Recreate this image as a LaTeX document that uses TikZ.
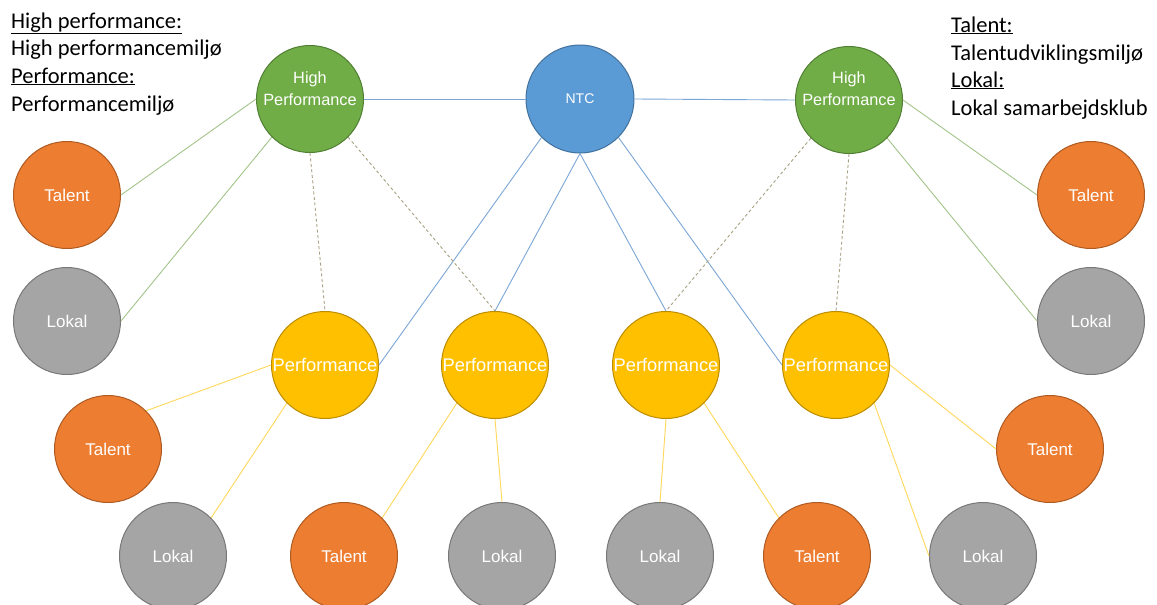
\documentclass[tikz,border=0pt]{standalone}
\usepackage{fontspec}
\setmainfont{Liberation Sans}
\newfontfamily\legendfont{Carlito}
\definecolor{cgreen}{HTML}{70AD47}
\definecolor{cgreenB}{HTML}{507E32}
\definecolor{cblue}{HTML}{5B9BD5}
\definecolor{cblueB}{HTML}{41719C}
\definecolor{corange}{HTML}{ED7D31}
\definecolor{corangeB}{HTML}{AE5A21}
\definecolor{cgray}{HTML}{A5A5A5}
\definecolor{cgrayB}{HTML}{787878}
\definecolor{cyellow}{HTML}{FFC000}
\definecolor{cyellowB}{HTML}{BC8C00}
\definecolor{lgreen}{HTML}{A3C48A}
\definecolor{lblue}{HTML}{7BA7D7}
\definecolor{lyellow}{HTML}{FFD85A}
\definecolor{ldash}{HTML}{A8A282}
\tikzset{
  circ/.style={circle, inner sep=0pt, minimum size=107pt, line width=1pt, text=white},
  hpc/.style={circ, fill=cgreen, draw=cgreenB},
  ntcc/.style={circ, fill=cblue, draw=cblueB, minimum size=108pt, font=\fontsize{14}{16}\selectfont},
  perfc/.style={circ, fill=cyellow, draw=cyellowB, font=\fontsize{18.3}{20}\selectfont},
  talc/.style={circ, fill=corange, draw=corangeB, font=\fontsize{17}{19}\selectfont},
  lokc/.style={circ, fill=cgray, draw=cgrayB, font=\fontsize{17}{19}\selectfont},
  hptext/.style={text=white, align=center, inner sep=0pt, font=\fontsize{16.3}{22}\selectfont},
  gline/.style={draw=lgreen, line width=0.9pt},
  bline/.style={draw=lblue, line width=0.9pt},
  yline/.style={draw=lyellow, line width=0.9pt},
  dline/.style={draw=ldash, line width=0.9pt, dash pattern=on 3pt off 2.5pt},
  leg/.style={anchor=base west, inner sep=0pt, font=\legendfont\fontsize{22.5}{27}\selectfont}
}
\begin{document}
\begin{tikzpicture}[x=1pt,y=-1pt]
\clip (0,0) rectangle (1157,605);
\fill[white] (0,0) rectangle (1157,605);
% nodes
\node[ntcc] (ntc) at (580,99) {NTC};
\node[hpc] (hpl) at (310,99) {};
\node[hpc] (hpr) at (849,100) {};
\node[talc] (tl1) at (67,195) {Talent};
\node[lokc] (ll1) at (67,321) {Lokal};
\node[talc] (tr1) at (1091,195) {Talent};
\node[lokc] (lr1) at (1091,321) {Lokal};
\node[perfc] (p1) at (325,365) {Performance};
\node[perfc] (p2) at (495,365) {Performance};
\node[perfc] (p3) at (666,365) {Performance};
\node[perfc] (p4) at (836,365) {Performance};
\node[talc] (t2) at (108,449) {Talent};
\node[lokc] (l2) at (173,556) {Lokal};
\node[talc] (t3) at (344,556) {Talent};
\node[lokc] (l3) at (502,556) {Lokal};
\node[lokc] (l4) at (660,556) {Lokal};
\node[talc] (t4) at (817,556) {Talent};
\node[lokc] (l5) at (983,556) {Lokal};
\node[talc] (t5) at (1050,449) {Talent};
\node[hptext] (hplt) at (310,89) {High\\Performance};
\node[hptext] (hprt) at (849,89) {High\\Performance};
% connectors
\draw[bline] (ntc.west) -- (hpl.east);
\draw[bline] (ntc.east) -- (hpr.west);
\draw[bline] (ntc.south west) -- (p1.east);
\draw[bline] (ntc.south) -- (p2.north);
\draw[bline] (ntc.south) -- (p3.north);
\draw[bline] (ntc.south east) -- (p4.west);
\draw[gline] (hpl.west) -- (tl1.east);
\draw[gline] (hpl.south west) -- (ll1.east);
\draw[gline] (hpr.east) -- (tr1.west);
\draw[gline] (hpr.south east) -- (lr1.west);
\draw[dline] (hpl.south) -- (p1.north);
\draw[dline] (hpl.south east) -- (p2.north);
\draw[dline] (hpr.south west) -- (p3.north);
\draw[dline] (hpr.south) -- (p4.north);
\draw[yline] (p1.west) -- (t2.north east);
\draw[yline] (p1.south west) -- (l2.north east);
\draw[yline] (p2.south west) -- (t3.north east);
\draw[yline] (p2.south) -- (l3.north);
\draw[yline] (p3.south) -- (l4.north);
\draw[yline] (p3.south east) -- (t4.north west);
\draw[yline] (p4.south east) -- (l5.west);
\draw[yline] (p4.east) -- (t5.west);
% legends
\node[leg] (lg1) at (11,28) {\underline{High performance:}};
\node[leg] (lg2) at (11,55) {High performancemiljø};
\node[leg] (lg3) at (11,83) {\underline{Performance:}};
\node[leg] (lg4) at (11,111) {Performancemiljø};
\node[leg] (rg1) at (951,32) {\underline{Talent:}};
\node[leg] (rg2) at (951,60) {Talentudviklingsmiljø};
\node[leg] (rg3) at (951,87) {\underline{Lokal:}};
\node[leg] (rg4) at (951,115) {Lokal samarbejdsklub};
\end{tikzpicture}
\end{document}
